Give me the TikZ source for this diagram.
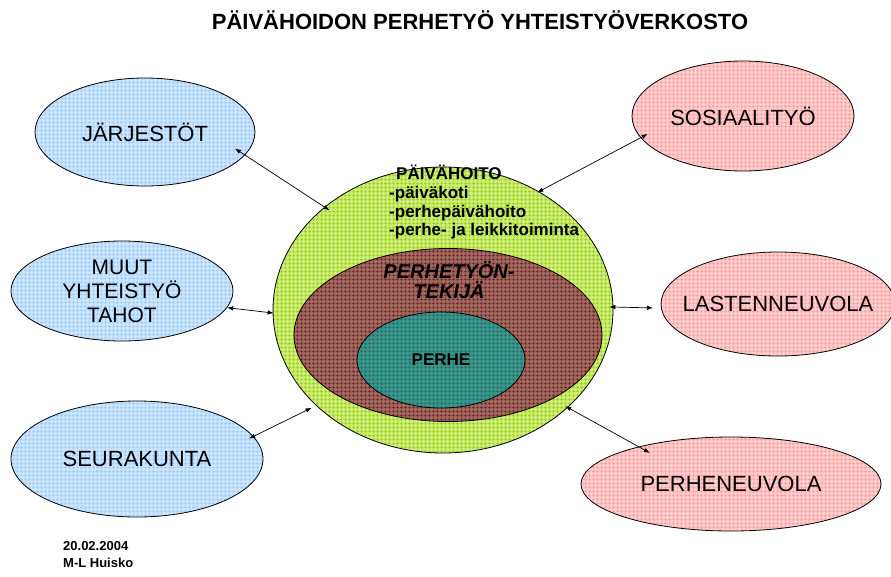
\documentclass[tikz,border=0pt]{standalone}
\usepackage{fontspec}
\setmainfont{Liberation Sans}
\usetikzlibrary{shapes.geometric,arrows.meta,patterns.meta}

\definecolor{blueback}{HTML}{CCE5FF}
\definecolor{bluegrid}{HTML}{99C9FF}
\definecolor{pinkback}{HTML}{FFCCCC}
\definecolor{pinkgrid}{HTML}{FF9999}
\definecolor{greenback}{HTML}{CCEE77}
\definecolor{greengrid}{HTML}{99CC11}
\definecolor{brownback}{HTML}{A06A55}
\definecolor{browngrid}{HTML}{6A1A40}
\definecolor{tealback}{HTML}{339988}
\definecolor{tealgrid}{HTML}{3A5E6A}

\tikzdeclarepattern{
  name=finegrid,
  type=uncolored,
  bounding box={(0pt,0pt) and (4pt,4pt)},
  tile size={(4pt,4pt)},
  code={\draw[line width=0.5pt] (0pt,2pt) -- (4pt,2pt) (2pt,0pt) -- (2pt,4pt);}
}

\tikzset{
  ell/.style={ellipse, draw, line width=0.8pt, inner sep=0pt, align=center,
    font=\fontsize{22}{24}\selectfont, pattern=finegrid},
  blueell/.style={ell, preaction={fill=blueback}, pattern color=bluegrid},
  pinkell/.style={ell, preaction={fill=pinkback}, pattern color=pinkgrid},
  greenell/.style={ell, preaction={fill=greenback}, pattern color=greengrid},
  brownell/.style={ell, preaction={fill=brownback}, pattern color=browngrid},
  tealell/.style={ell, preaction={fill=tealback}, pattern color=tealgrid},
  link/.style={{Latex[length=6pt,width=4.5pt]}-{Latex[length=6pt,width=4.5pt]}, line width=0.7pt}
}

\begin{document}
\begin{tikzpicture}[x=1pt, y=-1pt]
  \useasboundingbox (0,0) rectangle (891,576);

  \node[font=\fontsize{22}{24}\selectfont\bfseries] (title) at (480,20) {PÄIVÄHOIDON PERHETYÖ YHTEISTYÖVERKOSTO};

  % yhteistyotahot
  \node[blueell, minimum width=220pt, minimum height=108pt] (jarj) at (145,132) {JÄRJESTÖT};
  \node[blueell, minimum width=222pt, minimum height=100pt, font=\fontsize{21}{24}\selectfont] (muut) at (122,291) {MUUT\\YHTEISTYÖ\\TAHOT};
  \node[blueell, minimum width=252pt, minimum height=116pt] (seura) at (137,459) {SEURAKUNTA};
  \node[pinkell, minimum width=222pt, minimum height=110pt, inner xsep=-20pt] (sosi) at (743,116) {SOSIAALITYÖ};
  \node[pinkell, minimum width=234pt, minimum height=104pt, inner xsep=-40pt] (lasten) at (778,304) {LASTENNEUVOLA};
  \node[pinkell, minimum width=300pt, minimum height=94pt] (pneuvola) at (731,484) {PERHENEUVOLA};

  % paivahoito ja perhe
  \node[greenell, minimum width=340pt, minimum height=286pt] (paiva) at (443,310) {};
  \node[brownell, minimum width=308pt, minimum height=173pt] (tekija) at (448,335) {};
  \node[tealell, minimum width=168pt, minimum height=96pt, font=\fontsize{17}{18}\selectfont\bfseries] (perhe) at (441,360) {PERHE};

  \node[anchor=north west, align=left, inner sep=0pt, font=\fontsize{17}{18.7}\selectfont\bfseries] (paivatext) at (389,165)
    {\hspace*{7pt}PÄIVÄHOITO\\-päiväkoti\\-perhepäivähoito\\-perhe- ja leikkitoiminta};
  \node[align=center, font=\fontsize{20}{20}\selectfont\bfseries\itshape] (tekijatext) at (449,280) {PERHETYÖN-\\TEKIJÄ};

  \foreach \src/\sang/\dst/\dang/\sgap/\dgap in {jarj/-13/paiva/139/-12pt/-6pt,
      muut/-9/paiva/181/0pt/-1pt, seura/11/paiva/217/-5pt/5pt,
      sosi/192/paiva/51/-8pt/-2pt, lasten/182/paiva/1/8pt/-4pt,
      pneuvola/158/paiva/-38/-13pt/-3pt}
    \draw[link, shorten <=\sgap, shorten >=\dgap] (\src.\sang) -- (\dst.\dang);

  \node[anchor=north west, align=left, inner sep=0pt, font=\fontsize{13}{17}\selectfont\bfseries] (date) at (63,541)
    {20.02.2004\\M-L Huisko};
\end{tikzpicture}
\end{document}
